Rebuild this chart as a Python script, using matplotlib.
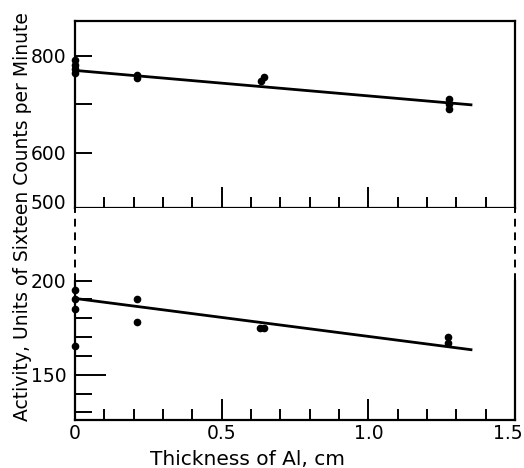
import numpy as np
import matplotlib.pyplot as plt
import matplotlib.transforms as mtransforms
from matplotlib.ticker import MultipleLocator, FixedLocator

# --- data ---
# upper panel: counts per minute
cpm_x = [0.0, 0.0, 0.0, 0.0, 0.21, 0.21, 0.645, 0.635, 1.275, 1.275, 1.275]
cpm_y = [792, 782, 772, 765, 761, 755, 757, 748, 710, 700, 690]
cpm_fit_x = [0.0, 1.35]
cpm_fit_y = [770, 699]

# lower panel: activity, units of sixteen
act_x = [0.0, 0.0, 0.0, 0.0, 0.21, 0.21, 0.63, 0.645, 1.27, 1.27]
act_y = [195, 190, 185, 165, 190, 178, 175, 175, 170, 167]
act_fit_x = [0.0, 1.35]
act_fit_y = [190.5, 163.3]

x_ticks = [0, 0.5, 1.0, 1.5]
x_ticklabels = ['0', '0.5', '1.0', '1.5']

lw_axis = 1.6

fig = plt.figure(figsize=(5.24, 4.68), dpi=100)
ax1 = fig.add_axes([0.1431, 0.5556, 0.8397, 0.3995])
ax2 = fig.add_axes([0.1431, 0.1026, 0.8397, 0.4530])

for ax in (ax1, ax2):
    ax.set_xlim(0, 1.5)
    for s in ax.spines.values():
        s.set_linewidth(lw_axis)
    ax.xaxis.set_major_locator(MultipleLocator(0.5))
    ax.xaxis.set_minor_locator(MultipleLocator(0.1))
    ax.tick_params(axis='x', which='major', direction='in', length=15, width=1.4,
                   top=False, labelsize=13.5, pad=3)
    ax.tick_params(axis='x', which='minor', direction='in', length=8, width=1.4, top=False)
    ax.tick_params(axis='y', which='both', direction='in', length=12, width=1.4,
                   right=False, labelsize=13.5, pad=6)

# --- top panel ---
ax1.plot(cpm_fit_x, cpm_fit_y, color='black', lw=2.0)
ax1.plot(cpm_x, cpm_y, 'o', color='black', ms=4.5, clip_on=False)
ax1.set_ylim(486, 872)
ax1.yaxis.set_major_locator(FixedLocator([500, 600, 800]))
ax1.yaxis.set_minor_locator(FixedLocator([700]))
ax1.set_yticklabels(['500', '600', '800'])
ax1.yaxis.get_major_ticks()[0].tick1line.set_visible(False)
ax1.tick_params(axis='x', labelbottom=False)

# --- bottom panel ---
ax2.plot(act_fit_x, act_fit_y, color='black', lw=2.0)
ax2.plot(act_x, act_y, 'o', color='black', ms=4.5, clip_on=False)
ax2.set_ylim(126, 238.5)
ax2.yaxis.set_major_locator(FixedLocator([150, 200]))
ax2.yaxis.set_minor_locator(FixedLocator([130, 140, 160, 170, 180, 190]))
ax2.yaxis.get_major_ticks()[0].tick1line.set_markersize(22)
ax2.set_xticks(x_ticks)
ax2.set_xticklabels(x_ticklabels)
# nudge the last label left so it stays inside the figure
lab = ax2.get_xticklabels()[-1]
lab.set_transform(lab.get_transform() +
                  mtransforms.ScaledTranslation(-5 / 72, 0, fig.dpi_scale_trans))
ax2.spines['top'].set_visible(False)
ax2.spines['left'].set_visible(False)
ax2.spines['right'].set_visible(False)

# side borders: solid up to 200, dashed above (axis break)
frac = (200 - 126) / (238.5 - 126)
for xv in (0.0, 1.5):
    ax2.axvline(xv, ymin=0, ymax=frac, color='black', lw=lw_axis, clip_on=False)
    ax2.axvline(xv, ymin=frac, ymax=1, color='black', lw=1.4, ls=(0, (4, 3)), clip_on=False)

ax2.set_xlabel('Thickness of Al, cm', fontsize=14.5, labelpad=2)
ax2.xaxis.set_label_coords(0.393, -0.14)

fig.text(0.043, 1 - 217 / 468, 'Activity, Units of Sixteen Counts per Minute',
         rotation=90, ha='center', va='center', fontsize=13.5)

fig.savefig('out.png', dpi=100)
